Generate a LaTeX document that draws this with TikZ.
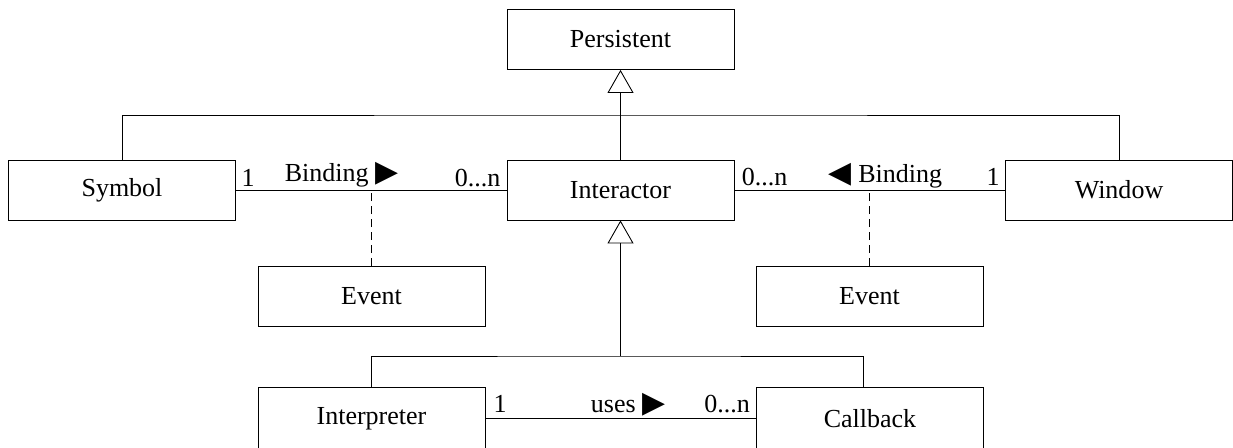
\documentclass[tikz,border=0pt]{standalone}
\usepackage{fontspec}
\setmainfont{Liberation Serif}
\newfontfamily\symfont{DejaVu Sans}
\usetikzlibrary{arrows.meta}

\tikzset{
  cls/.style={draw, minimum width=4.54cm, minimum height=1.2cm, inner sep=0pt,
    font=\fontsize{14.8}{17}\selectfont},
  lbl/.style={anchor=base, inner sep=0pt, font=\fontsize{14.8}{17}\selectfont},
  gen/.style={-{Triangle[open, width=0.52cm, length=0.46cm]}},
  dep/.style={dash pattern=on 0.16cm off 0.1cm},
}
\newcommand{\rtri}{{\symfont\fontsize{17}{17}\selectfont ▶}}
\newcommand{\ltri}{{\symfont\fontsize{17}{17}\selectfont ◀}}

\begin{document}
\begin{tikzpicture}[x=0.02cm, y=-0.02cm, line width=0.5pt]
  \useasboundingbox (0,0) rectangle (1233,447);

  % the classes
  \node[cls] (pers) at (620.5,39.5) {Persistent};
  \node[cls] (sym) at (122,190) {Symbol};
  \node[cls] (inter) at (620.5,190) {Interactor};
  \node[cls] (win) at (1119,190) {Window};
  \node[cls] (ev1) at (371.5,296.5) {Event};
  \node[cls] (ev2) at (869.5,296.5) {Event};
  \node[cls, minimum height=1.26cm] (interp) at (371.5,418.5) {Interpreter};
  \node[cls, minimum height=1.26cm] (cb) at (870,418.5) {Callback};

  % inheritance
  \coordinate (jt) at (620.5,115);
  \coordinate (jb) at (620.5,356);
  \draw[gen] (inter.north) -- (pers.south);
  \draw (sym.north) |- (jt) -| (win.north);
  \draw[gen] (jb) -- (inter.south);
  \draw (interp.north) |- (jb) -| ([xshift=-0.14cm]cb.north);

  % associations
  \draw (sym.east) -- (inter.west);
  \draw (inter.east) -- (win.west);
  \draw (interp.east) -- (cb.west);
  \draw[dep] (ev1.north) -- (ev1.north |- sym.east);
  \draw[dep] (ev2.north) -- (ev2.north |- win.west);

  % labels
  \node[lbl] (m1) at (248,186) {1};
  \node[lbl] (b1) at (341.5,181) {Binding \rtri};
  \node[lbl] (m2) at (477.5,186) {0...n};
  \node[lbl] (m3) at (764.5,185) {0...n};
  \node[lbl] (b2) at (885.5,182) {\ltri{} Binding};
  \node[lbl] (m4) at (993,185) {1};
  \node[lbl] (m5) at (500,412) {1};
  \node[lbl] (u1) at (628,412) {uses \rtri};
  \node[lbl] (m6) at (727,412) {0...n};
\end{tikzpicture}
\end{document}
